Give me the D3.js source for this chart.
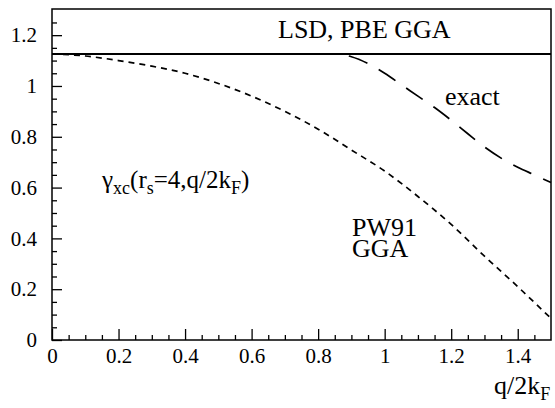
<!DOCTYPE html>
<html>
<head>
<meta charset="utf-8">
<script src="https://cdnjs.cloudflare.com/ajax/libs/d3/7.8.5/d3.min.js"></script>
</head>
<body style="margin:0">
<svg id="chart" width="555" height="408"></svg>
<script>
// q/2kF grid and gamma_xc values
var pw91Q     = [0, 0.1, 0.2, 0.3, 0.4, 0.5, 0.6, 0.7, 0.8, 0.9, 1.0, 1.1, 1.2, 1.3, 1.4, 1.5];
var pw91Gamma = [1.126, 1.118, 1.100, 1.078, 1.050, 1.010, 0.960, 0.900, 0.830, 0.748, 0.665, 0.565, 0.455, 0.330, 0.210, 0.085];

var exactQ     = [0, 0.85, 0.9, 0.95, 1.0, 1.05, 1.1, 1.15, 1.2, 1.25, 1.3, 1.35, 1.4, 1.45, 1.5];
var exactGamma = [1.126, 1.126, 1.115, 1.088, 1.050, 1.005, 0.960, 0.915, 0.865, 0.812, 0.760, 0.716, 0.680, 0.650, 0.620];

var lsdQ     = [0, 1.5];
var lsdGamma = [1.126, 1.126];

var xMajor = [0, 0.2, 0.4, 0.6, 0.8, 1, 1.2, 1.4];
var xMinor = [0.05, 0.1, 0.15, 0.25, 0.3, 0.35, 0.45, 0.5, 0.55, 0.65, 0.7, 0.75, 0.85, 0.9, 0.95,
              1.05, 1.1, 1.15, 1.25, 1.3, 1.35, 1.45];
var yMajor = [0, 0.2, 0.4, 0.6, 0.8, 1, 1.2];
var yMinor = [0.05, 0.1, 0.15, 0.25, 0.3, 0.35, 0.45, 0.5, 0.55, 0.65, 0.7, 0.75, 0.85, 0.9, 0.95,
              1.05, 1.1, 1.15, 1.25];

var FONT = "Liberation Serif";
var m = {left: 52, right: 551, top: 9, bottom: 340};

var svg = d3.select("#chart").attr("font-family", FONT);

var x = d3.scaleLinear().domain([0, 1.5]).range([m.left, m.right]);
var y = d3.scaleLinear().domain([0, 1.303]).range([m.bottom, m.top]);

// frame
svg.append("rect")
    .attr("x", m.left).attr("y", m.top)
    .attr("width", m.right - m.left).attr("height", m.bottom - m.top)
    .attr("fill", "none").attr("stroke", "#000").attr("stroke-width", 1.5);

// x axis, ticks pointing inward
svg.append("g").attr("transform", "translate(0," + m.bottom + ")")
    .call(d3.axisBottom(x).tickValues(xMinor).tickSize(-5).tickFormat(""));
var xMaj = svg.append("g").attr("transform", "translate(0," + m.bottom + ")")
    .call(d3.axisBottom(x).tickValues(xMajor).tickSize(-11).tickPadding(16)
      .tickFormat(function(d) { return d3.format("")(d); }));

// y axis
svg.append("g").attr("transform", "translate(" + m.left + ",0)")
    .call(d3.axisLeft(y).tickValues(yMinor).tickSize(-5).tickFormat(""));
svg.append("g").attr("transform", "translate(" + m.left + ",0)")
    .call(d3.axisLeft(y).tickValues(yMajor).tickSize(-10).tickPadding(15)
      .tickFormat(function(d) { return d3.format("")(d); }));

svg.selectAll(".domain").remove();
svg.selectAll("g").attr("font-family", null);
svg.selectAll(".tick line").attr("stroke", "#000").attr("stroke-width", 1.3);
svg.selectAll(".tick text").attr("font-family", FONT).attr("font-size", 21).attr("fill", "#000");
xMaj.selectAll("text").attr("dy", "0.35em");

var line = d3.line()
    .x(function(d) { return x(d[0]); })
    .y(function(d) { return y(d[1]); })
    .curve(d3.curveMonotoneX);

svg.append("path")
    .datum(d3.zip(lsdQ, lsdGamma))
    .attr("d", line)
    .attr("fill", "none").attr("stroke", "#000").attr("stroke-width", 2);

svg.append("path")
    .datum(d3.zip(pw91Q, pw91Gamma))
    .attr("d", line)
    .attr("fill", "none").attr("stroke", "#000").attr("stroke-width", 1.7)
    .attr("stroke-dasharray", "6,5");

svg.append("path")
    .datum(d3.zip(exactQ, exactGamma))
    .attr("d", line)
    .attr("fill", "none").attr("stroke", "#000").attr("stroke-width", 1.7)
    .attr("stroke-dasharray", "20,13");

// labels
function label(px, py, size, str) {
  return svg.append("text").attr("x", px).attr("y", py)
      .attr("font-family", FONT).attr("font-size", size).text(str);
}
label(278, 38, 26, "LSD, PBE GGA");
label(445, 105, 26, "exact");
label(352, 236, 26, "PW91");
label(352, 257, 26, "GGA");

var g = svg.append("text").attr("x", 102).attr("y", 188)
    .attr("font-family", FONT).attr("font-size", 25);
g.append("tspan").text("\u03b3");
g.append("tspan").attr("dy", 6).attr("font-size", 18).text("xc");
g.append("tspan").attr("dy", -6).text("(r");
g.append("tspan").attr("dy", 6).attr("font-size", 18).text("s");
g.append("tspan").attr("dy", -6).text("=4,q/2k");
g.append("tspan").attr("dy", 6).attr("font-size", 18).text("F");
g.append("tspan").attr("dy", -6).text(")");

var xl = svg.append("text").attr("x", 494).attr("y", 394)
    .attr("font-family", FONT).attr("font-size", 26);
xl.append("tspan").text("q/2k");
xl.append("tspan").attr("dy", 6).attr("font-size", 18).text("F");
</script>
</body>
</html>
